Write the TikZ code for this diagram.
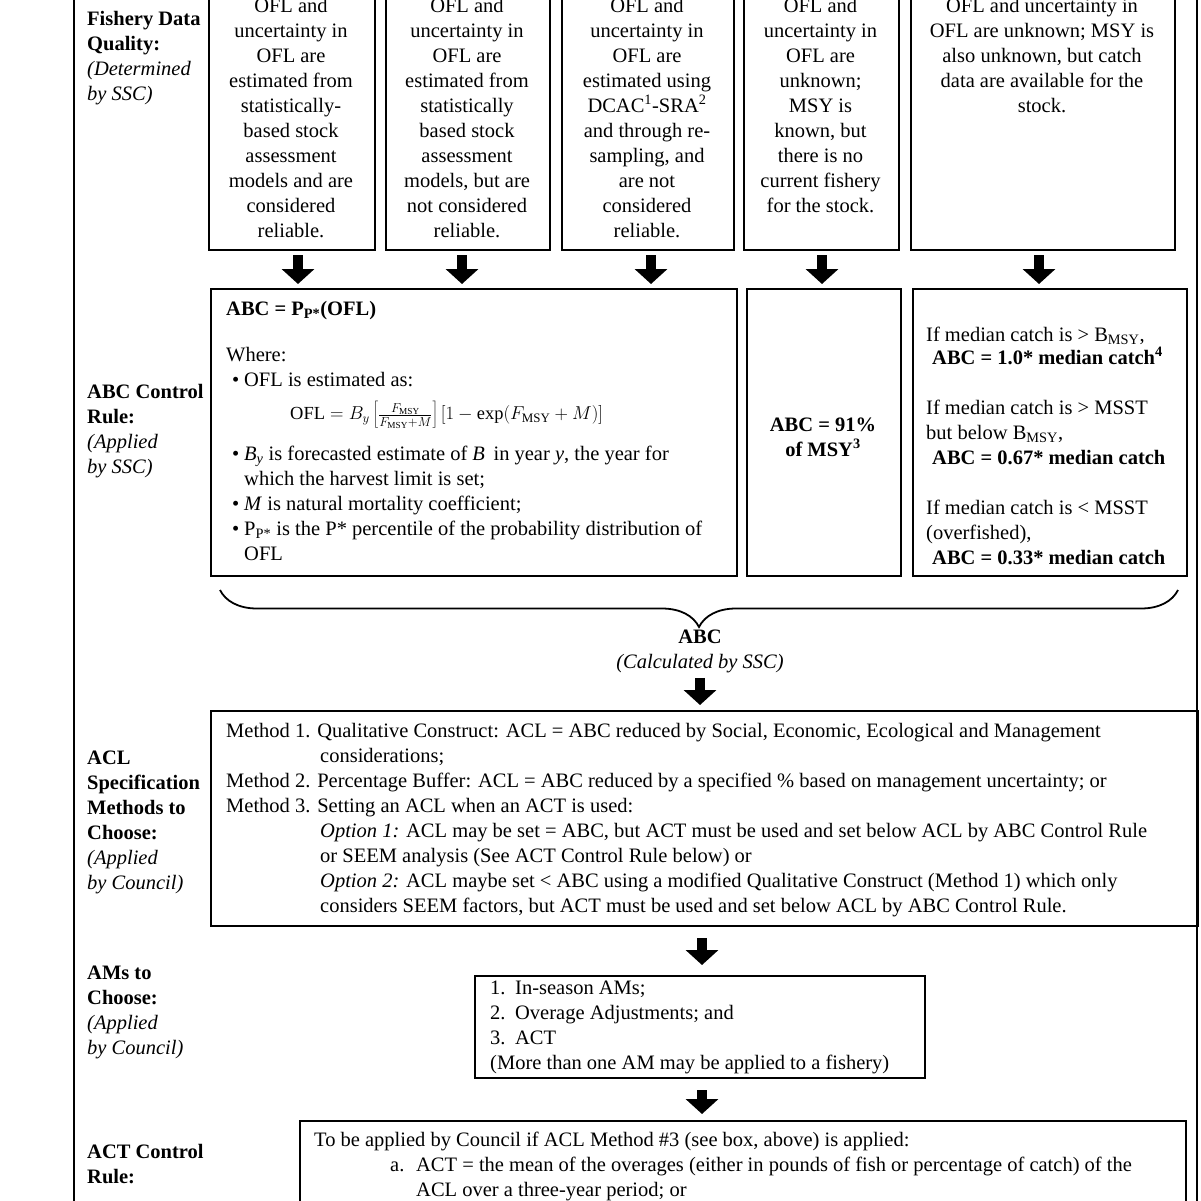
\documentclass[tikz,border=0pt]{standalone}
\usepackage{fontspec}
\setmainfont{Liberation Serif}
\usetikzlibrary{arrows.meta,decorations.pathreplacing}
\begin{document}
\begin{tikzpicture}[x=1pt,y=-1pt,
  box/.style={draw, line width=2.3pt, inner sep=0pt, anchor=north west},
  txt/.style={inner sep=0pt, font=\fontsize{20.5}{25}\selectfont},
  lbl/.style={txt, anchor=north west, align=left},
  ctxt/.style={txt, anchor=north, align=center},
  barrow/.style={line width=10pt, -{Triangle[width=32pt,length=15pt]}},
  bracestyle/.style={decorate, decoration={brace, mirror, amplitude=37pt}, line width=1.8pt}]
\useasboundingbox (0,0) rectangle (1201,1200);
\clip (0,0) rectangle (1201,1200);
\fill[white] (0,0) rectangle (1201,1200);
% outer frame
\draw[line width=2.6pt] (74,-30) rectangle (1197,1230);

% left labels
\node[lbl] (L1) at (87,7.5) {\strut\textbf{Fishery Data}\\\textbf{Quality:}\\\textit{(Determined}\\\textit{by SSC)}};
\node[lbl] (L2) at (87,380.5) {\strut\textbf{ABC Control}\\\textbf{Rule:}\\\textit{(Applied}\\\textit{by SSC)}};
\node[lbl] (L3) at (87,746.5) {\strut\textbf{ACL}\\\textbf{Specification}\\\textbf{Methods to}\\\textbf{Choose:}\\\textit{(Applied}\\\textit{by Council)}};
\node[lbl] (L4) at (87,961.5) {\strut\textbf{AMs to}\\\textbf{Choose:}\\\textit{(Applied}\\\textit{by Council)}};
\node[lbl] (L5) at (87,1140.5) {\strut\textbf{ACT Control}\\\textbf{Rule:}};

% top row boxes
\node[box, minimum width=166pt, minimum height=279pt] (t1) at (208,-30) {};
\node[box, minimum width=164pt, minimum height=279pt] (t2) at (385,-30) {};
\node[box, minimum width=172pt, minimum height=279pt] (t3) at (561,-30) {};
\node[box, minimum width=155pt, minimum height=279pt] (t4) at (743,-30) {};
\node[box, minimum width=264pt, minimum height=279pt] (t5) at (910,-30) {};

\node[ctxt] (tx1) at (291,-5.5) {\strut OFL and\\uncertainty in\\OFL are\\estimated from\\statistically-\\based stock\\assessment\\models and are\\considered\\reliable.};
\node[ctxt] (tx2) at (467,-5.5) {\strut OFL and\\uncertainty in\\OFL are\\estimated from\\statistically\\based stock\\assessment\\models, but are\\not considered\\reliable.};
\node[ctxt] (tx3) at (647,-5.5) {\strut OFL and\\uncertainty in\\OFL are\\estimated using\\DCAC\textsuperscript{1}-SRA\textsuperscript{2}\\and through re-\\sampling, and\\are not\\considered\\reliable.};
\node[ctxt] (tx4) at (820.5,-5.5) {\strut OFL and\\uncertainty in\\OFL are\\unknown;\\MSY is\\known, but\\there is no\\current fishery\\for the stock.};
\node[ctxt] (tx5) at (1042,-5.5) {\strut OFL and uncertainty in\\OFL are unknown; MSY is\\also unknown, but catch\\data are available for the\\stock.};

% second row boxes
\node[box, minimum width=526pt, minimum height=287pt] (A) at (210,288) {};
\node[box, minimum width=154pt, minimum height=287pt] (B) at (746,288) {};
\node[box, minimum width=274pt, minimum height=287pt] (C) at (912,288) {};

\node[lbl] (Atitle) at (226,297.5) {\strut\textbf{ABC = P\textsubscript{P*}(OFL)}};
\node[lbl] (Awhere) at (226,343.5) {\strut Where:\\\hspace*{6pt}\makebox[12pt][l]{\textbullet}OFL is estimated as:};
\node[txt, anchor=west, scale=0.9] (Aform) at (290,415) {$\mathrm{OFL} = B_y\left[\frac{F_{\mathrm{MSY}}}{F_{\mathrm{MSY}}+M}\right][1-\exp(F_{\mathrm{MSY}}+M)]$};
\node[lbl] (Abul) at (226,442.5) {\strut\hspace*{6pt}\makebox[12pt][l]{\textbullet}\textit{B\textsubscript{y}} is forecasted estimate of \textit{B}\, in year \textit{y}, the year for\\
\hspace*{18pt}which the harvest limit is set;\\
\hspace*{6pt}\makebox[12pt][l]{\textbullet}\textit{M} is natural mortality coefficient;\\
\hspace*{6pt}\makebox[12pt][l]{\textbullet}P\textsubscript{P*} is the P* percentile of the probability distribution of\\
\hspace*{18pt}OFL};

\node[ctxt] (Btx) at (823,413.5) {\strut\textbf{ABC = 91\%}\\\textbf{of MSY\textsuperscript{3}}};

\node[lbl] (Ctx) at (926,323.5) {\strut If median catch is > B\textsubscript{MSY},\\[-2pt]
\hspace*{6pt}\textbf{ABC = 1.0* median catch\textsuperscript{4}}\\[25pt]
If median catch is > MSST\\
but below B\textsubscript{MSY},\\
\hspace*{6pt}\textbf{ABC = 0.67* median catch}\\[25pt]
If median catch is < MSST\\
(overfished),\\
\hspace*{6pt}\textbf{ABC = 0.33* median catch}};

% brace and ABC label
\coordinate (brL) at (220,590);
\coordinate (brR) at (1178,590);
\draw[bracestyle] (brL) -- (brR);
\node[ctxt] (abc) at (700,625.5) {\strut\textbf{ABC}\\\textit{(Calculated by SSC)}};

% ACL box
\node[box, minimum width=987pt, minimum height=215pt] (acl) at (210,710) {};
\node[lbl] (acltx) at (226,719.5) {\strut Method 1. Qualitative Construct: ACL = ABC reduced by Social, Economic, Ecological and Management\\
\hspace*{94pt}considerations;\\
Method 2. Percentage Buffer: ACL = ABC reduced by a specified \% based on management uncertainty; or\\
Method 3. Setting an ACL when an ACT is used:\\
\hspace*{94pt}\textit{Option 1:} ACL may be set = ABC, but ACT must be used and set below ACL by ABC Control Rule\\
\hspace*{94pt}or SEEM analysis (See ACT Control Rule below) or\\
\hspace*{94pt}\textit{Option 2:} ACL maybe set < ABC using a modified Qualitative Construct (Method 1) which only\\
\hspace*{94pt}considers SEEM factors, but ACT must be used and set below ACL by ABC Control Rule.};

% AMs box
\node[box, minimum width=450pt, minimum height=102pt] (ams) at (474,975) {};
\node[lbl] (amstx) at (490,976.5) {\strut\makebox[25pt][l]{1.}In-season AMs;\\
\makebox[25pt][l]{2.}Overage Adjustments; and\\
\makebox[25pt][l]{3.}ACT\\
(More than one AM may be applied to a fishery)};

% ACT box
\node[box, minimum width=886pt, minimum height=110pt] (act) at (299,1120) {};
\node[lbl] (acttx) at (314,1128.5) {\strut To be applied by Council if ACL Method \#3 (see box, above) is applied:\\
\hspace*{76pt}\makebox[26pt][l]{a.}ACT = the mean of the overages (either in pounds of fish or percentage of catch) of the\\
\hspace*{102pt}ACL over a three-year period; or};

% arrows
\coordinate (c1) at (298,0);
\coordinate (c2) at (462,0);
\coordinate (c3) at (651,0);
\coordinate (c4) at (822,0);
\coordinate (c5) at (1039,0);
\coordinate (c6) at (702,0);
\draw[barrow, shorten <=4pt, shorten >=4pt] (t1.south -| c1) -- (A.north -| c1);
\draw[barrow, shorten <=4pt, shorten >=4pt] (t2.south -| c2) -- (A.north -| c2);
\draw[barrow, shorten <=4pt, shorten >=4pt] (t3.south -| c3) -- (A.north -| c3);
\draw[barrow, shorten <=4pt, shorten >=4pt] (t4.south -| c4) -- (B.north -| c4);
\draw[barrow, shorten <=4pt, shorten >=4pt] (t5.south -| c5) -- (C.north -| c5);
\draw[barrow, shorten <=5pt, shorten >=5pt] (abc.south) -- (acl.north -| abc.south);
\draw[barrow, shorten <=11pt, shorten >=10pt] (acl.south -| c6) -- (ams.north -| c6);
\draw[barrow, shorten <=11pt, shorten >=6pt] (ams.south -| c6) -- (act.north -| c6);
\end{tikzpicture}
\end{document}
